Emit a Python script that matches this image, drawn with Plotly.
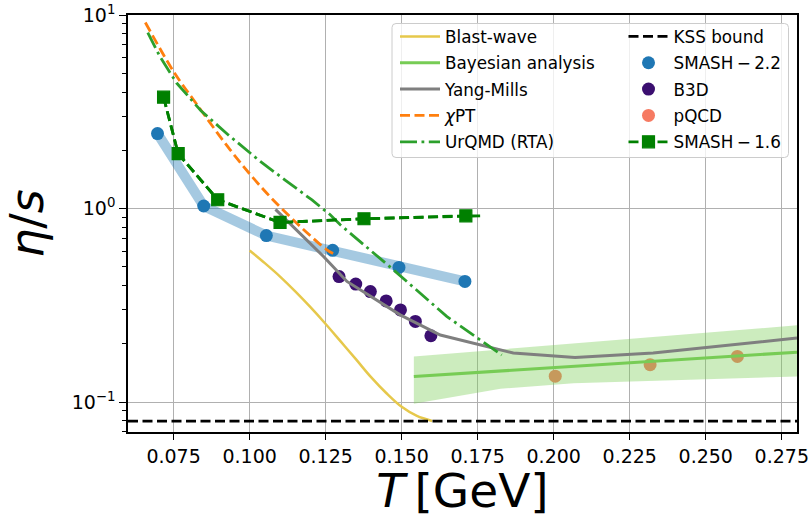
import numpy as np
import plotly.graph_objects as go

# ---- axis limits -------------------------------------------------------
T_MIN, T_MAX = 0.060, 0.280
Y_LOG_MIN, Y_LOG_MAX = -1.155, 1.0

# ---- SMASH-2.2 ---------------------------------------------------------
t_smash22 = [0.0697, 0.0849, 0.1055, 0.1273, 0.1491, 0.1708]
eta_smash22 = [2.44, 1.03, 0.725, 0.608, 0.496, 0.420]

# ---- SMASH-1.6 ---------------------------------------------------------
t_smash16 = [0.0717, 0.0765, 0.0895, 0.1100, 0.1376, 0.1711]
eta_smash16 = [3.76, 1.92, 1.11, 0.847, 0.885, 0.917]
t_smash16_tail = [0.1711, 0.1758]
eta_smash16_tail = [0.917, 0.917]

# ---- B3D ---------------------------------------------------------------
t_b3d = [0.1294, 0.1349, 0.1397, 0.1449, 0.1496, 0.1545, 0.1596]
eta_b3d = [0.445, 0.407, 0.372, 0.333, 0.299, 0.261, 0.220]

# ---- pQCD --------------------------------------------------------------
t_pqcd = [0.2005, 0.2317, 0.2604]
eta_pqcd = [0.136, 0.156, 0.172]

# ---- Blast-wave --------------------------------------------------------
t_blast = [0.100, 0.105, 0.110, 0.115, 0.120, 0.125, 0.130, 0.135,
           0.140, 0.145, 0.150, 0.155, 0.160]
eta_blast = [0.607, 0.522, 0.445, 0.373, 0.309, 0.253, 0.205, 0.166,
             0.134, 0.111, 0.0944, 0.0847, 0.0798]

# ---- Bayesian analysis (median and band) -------------------------------
t_bayes = [0.154, 0.180, 0.210, 0.240, 0.280]
eta_bayes = [0.1355, 0.144, 0.154, 0.165, 0.181]
t_bayes_hi = [0.154, 0.180, 0.210, 0.240, 0.280]
eta_bayes_hi = [0.172, 0.1855, 0.203, 0.221, 0.249]
t_bayes_lo = [0.154, 0.1825, 0.2065, 0.240, 0.280]
eta_bayes_lo = [0.098, 0.117, 0.125, 0.130, 0.1355]

# ---- Yang-Mills --------------------------------------------------------
t_ym = [0.1085, 0.1133, 0.1243, 0.132, 0.1495, 0.1627, 0.1758, 0.1867,
        0.207, 0.2327, 0.280]
eta_ym = [0.99, 0.834, 0.565, 0.42, 0.282, 0.222, 0.198, 0.179,
          0.170, 0.179, 0.214]

# ---- chiral perturbation theory ---------------------------------------
t_chpt = [0.0657, 0.075, 0.0827, 0.0936, 0.1046, 0.1155, 0.1254, 0.128]
eta_chpt = [9.15, 5.1, 3.44, 2.01, 1.25, 0.84, 0.612, 0.58]

# ---- UrQMD (RTA) -------------------------------------------------------
t_urqmd = [0.0665, 0.0705, 0.076, 0.084, 0.093, 0.1035, 0.112, 0.1205,
           0.1265, 0.1298, 0.1473, 0.1648, 0.1829]
eta_urqmd = [8.1, 6.1, 4.45, 3.2, 2.4, 1.75, 1.39, 1.107,
             0.928, 0.824, 0.482, 0.277, 0.175]

# ---- KSS bound ---------------------------------------------------------
kss = 1.0 / (4.0 * np.pi)

# ---- tick labels -------------------------------------------------------
x_ticks = [0.075, 0.100, 0.125, 0.150, 0.175, 0.200, 0.225, 0.250, 0.275]
x_tick_text = [f"{v:.3f}" for v in x_ticks]
y_ticks = [0.1, 1.0, 10.0]
y_tick_text = ["10<sup>\u22121</sup>", "10<sup>0</sup>", "10<sup>1</sup>"]

FONT = "DejaVu Sans"
C_BLUE = "#1f77b4"
C_PURPLE = "#3b0f70"
C_SALMON = "#f67a62"
C_LIME = "#77cc55"
C_YELLOW = "#e6c84b"
C_GRAY = "#7f7f7f"
C_ORANGE = "#ff7f0e"
C_GREEN = "#2ca02c"
C_DKGREEN = "#008000"

fig = go.Figure()

# thick translucent guide through the SMASH-2.2 points
fig.add_trace(go.Scatter(x=t_smash22, y=eta_smash22, mode="lines",
                         line=dict(color="rgba(31,119,180,0.4)", width=10),
                         showlegend=False, hoverinfo="skip"))
fig.add_trace(go.Scatter(x=t_smash22, y=eta_smash22, mode="markers",
                         name="SMASH\u2009\u2212\u20092.2",
                         marker=dict(color=C_BLUE, size=13),
                         legend="legend2", legendrank=2, legendgroup="s22"))
fig.add_trace(go.Scatter(x=t_b3d, y=eta_b3d, mode="markers", name="B3D",
                         marker=dict(color=C_PURPLE, size=13),
                         legend="legend2", legendrank=3, legendgroup="b3d"))
fig.add_trace(go.Scatter(x=t_pqcd, y=eta_pqcd, mode="markers", name="pQCD",
                         marker=dict(color=C_SALMON, size=13),
                         legend="legend2", legendrank=4, legendgroup="pqcd"))

# Bayesian credible band (closed polygon: upper edge, then lower reversed)
band_x = list(t_bayes_hi) + list(t_bayes_lo)[::-1]
band_y = list(eta_bayes_hi) + list(eta_bayes_lo)[::-1]
fig.add_trace(go.Scatter(x=band_x, y=band_y, mode="lines", fill="toself",
                         fillcolor="rgba(120,205,85,0.38)",
                         line=dict(width=0), showlegend=False,
                         hoverinfo="skip"))
fig.add_trace(go.Scatter(x=t_bayes, y=eta_bayes, mode="lines",
                         name="Bayesian analysis",
                         line=dict(color=C_LIME, width=3),
                         legend="legend", legendrank=2, legendgroup="bay"))

fig.add_trace(go.Scatter(x=t_blast, y=eta_blast, mode="lines",
                         name="Blast-wave",
                         line=dict(color=C_YELLOW, width=2.5, shape="spline",
                                   smoothing=1.0),
                         legend="legend", legendrank=1, legendgroup="bw"))
fig.add_trace(go.Scatter(x=t_ym, y=eta_ym, mode="lines", name="Yang-Mills",
                         line=dict(color=C_GRAY, width=3),
                         legend="legend", legendrank=3, legendgroup="ym"))
fig.add_trace(go.Scatter(x=t_chpt, y=eta_chpt, mode="lines",
                         name="<i>\u03c7</i>PT",
                         line=dict(color=C_ORANGE, width=2.8,
                                   dash="10px,4.5px", shape="spline"),
                         legend="legend", legendrank=4, legendgroup="chpt"))
fig.add_trace(go.Scatter(x=t_urqmd, y=eta_urqmd, mode="lines",
                         name="UrQMD (RTA)",
                         line=dict(color=C_GREEN, width=2.8,
                                   dash="17px,4.5px,2.8px,4.5px"),
                         legend="legend", legendrank=5, legendgroup="urqmd"))
fig.add_trace(go.Scatter(x=[T_MIN, T_MAX], y=[kss, kss], mode="lines",
                         name="KSS bound",
                         line=dict(color="black", width=2.8,
                                   dash="10px,4.5px"),
                         legend="legend2", legendrank=1, legendgroup="kss"))

# SMASH-1.6: dashed curve (runs a bit past the last marker) plus markers
fig.add_trace(go.Scatter(x=t_smash16 + t_smash16_tail[1:],
                         y=eta_smash16 + eta_smash16_tail[1:], mode="lines",
                         line=dict(color=C_DKGREEN, width=2.8,
                                   dash="10px,4.5px"),
                         showlegend=False, hoverinfo="skip"))
fig.add_trace(go.Scatter(x=t_smash16, y=eta_smash16, mode="lines+markers",
                         name="SMASH\u2009\u2212\u20091.6",
                         line=dict(color=C_DKGREEN, width=2.8,
                                   dash="10px,4.5px"),
                         marker=dict(color=C_DKGREEN, size=12, symbol="square",
                                     line=dict(color=C_DKGREEN, width=1.2)),
                         legend="legend2", legendrank=5, legendgroup="s16"))

# ---- legend frame (rounded, shared by both columns) ----------------------
PLOT_L, PLOT_R, PLOT_T, PLOT_B = 128, 797, 15, 432
W_PX, H_PX = PLOT_R - PLOT_L, PLOT_B - PLOT_T


def px2paper(px, py):
    return (px - PLOT_L) / W_PX, (PLOT_B - py) / H_PX


def rounded_box(x0, y0, x1, y1, r):
    rx, ry = r / W_PX, r / H_PX
    a0, b0 = px2paper(x0, y1)  # lower-left
    a1, b1 = px2paper(x1, y0)  # upper-right
    return (f"M {a0+rx},{b0} L {a1-rx},{b0} Q {a1},{b0} {a1},{b0+ry} "
            f"L {a1},{b1-ry} Q {a1},{b1} {a1-rx},{b1} L {a0+rx},{b1} "
            f"Q {a0},{b1} {a0},{b1-ry} L {a0},{b0+ry} Q {a0},{b0} {a0+rx},{b0} Z")


fig.add_shape(type="path", xref="paper", yref="paper",
              path=rounded_box(392, 23.5, 788.5, 157.5, 4),
              fillcolor="rgba(255,255,255,0.8)",
              line=dict(color="#cccccc", width=1), layer="above")

leg_font = dict(family=FONT, size=16.8, color="black")
lx1, ly = px2paper(395, 19)
lx2, _ = px2paper(623.5, 19)

fig.update_layout(
    width=811, height=518,
    margin=dict(l=PLOT_L, r=811 - PLOT_R, t=PLOT_T, b=518 - PLOT_B,
                autoexpand=False),
    paper_bgcolor="white", plot_bgcolor="white",
    font=dict(family=FONT, color="black"),
    legend=dict(x=lx1, y=ly, xanchor="left", yanchor="top",
                bgcolor="rgba(0,0,0,0)", borderwidth=0, font=leg_font,
                itemwidth=40, tracegroupgap=1.5),
    legend2=dict(x=lx2, y=ly, xanchor="left", yanchor="top",
                 bgcolor="rgba(0,0,0,0)", borderwidth=0, font=leg_font,
                 itemwidth=40, tracegroupgap=1.5),
    xaxis=dict(range=[T_MIN, T_MAX], tickvals=x_ticks, ticktext=x_tick_text,
               showgrid=True, gridcolor="#b0b0b0", gridwidth=1.3,
               zeroline=False, showline=True, mirror=True,
               linecolor="black", linewidth=1.5,
               ticks="outside", ticklen=6, tickwidth=1.3, tickcolor="black",
               tickfont=dict(family=FONT, size=19, color="black"),
               title=dict(text="<i>T</i>\u2009[GeV]",
                          font=dict(family=FONT, size=47, color="black"),
                          standoff=7)),
    yaxis=dict(type="log", range=[Y_LOG_MIN, Y_LOG_MAX],
               tickvals=y_ticks, ticktext=y_tick_text,
               showgrid=True, gridcolor="#b0b0b0", gridwidth=1.3,
               zeroline=False, showline=True, mirror=True,
               linecolor="black", linewidth=1.5,
               ticks="outside", ticklen=7, tickwidth=1.3, tickcolor="black",
               tickfont=dict(family=FONT, size=19, color="black"),
               minor=dict(ticks="outside", ticklen=4, tickwidth=1,
                          tickcolor="black", showgrid=False, dtick="D1"),
               title=dict(text="<i>\u03b7</i>/<i>s</i>",
                          font=dict(family=FONT, size=46, color="black"),
                          standoff=16)),
)

fig.write_html("out.html")
